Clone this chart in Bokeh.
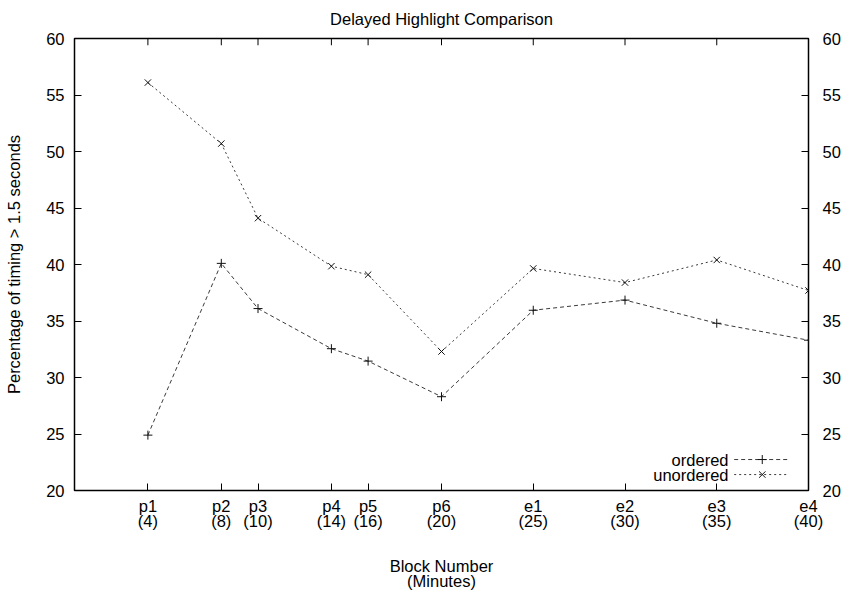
from bokeh.plotting import figure
from bokeh.models import (LinearAxis, FixedTicker, Range1d, ColumnDataSource, Label)
from bokeh.embed import file_html
from bokeh.resources import INLINE

# ---- data ----
blocks = ["p1", "p2", "p3", "p4", "p5", "p6", "e1", "e2", "e3", "e4"]
minutes = [4, 8, 10, 14, 16, 20, 25, 30, 35, 40]
ordered = [24.9, 40.1, 36.1, 32.55, 31.45, 28.3, 35.95, 36.85, 34.8, 33.3]
unordered = [56.1, 50.7, 44.1, 39.85, 39.1, 32.3, 39.65, 38.4, 40.4, 37.7]
y_ticks = [20, 25, 30, 35, 40, 45, 50, 55, 60]
title_text = "Delayed Highlight Comparison"

FONT = "Liberation Sans"
FS = "16.5px"
LINE_COLOR = "#3a3a3a"
X_MIN, X_MAX = 0, 40
Y_MIN, Y_MAX = 20, 60
TICK_LEN_DATA = 0.6  # inward tick length for the top edge, in y units

p = figure(width=844, height=593, output_backend="svg", toolbar_location=None,
           x_range=Range1d(X_MIN, X_MAX), y_range=Range1d(Y_MIN, Y_MAX),
           min_border_left=74, min_border_right=36, min_border_top=38,
           min_border_bottom=102, x_axis_location=None, y_axis_location=None)
p.xgrid.visible = False
p.ygrid.visible = False
p.outline_line_color = "black"
p.outline_line_width = 1.5
p.background_fill_color = "white"
p.border_fill_color = "white"

p.title.text = title_text
p.title.align = "center"
p.title.vertical_align = "top"
p.title.text_font = FONT
p.title.text_font_style = "normal"
p.title.text_font_size = FS
p.title.text_color = "black"
p.title.text_line_height = 0.7
p.title.standoff = 17


def style_axis(ax):
    ax.axis_line_color = None
    ax.major_tick_in = 7
    ax.major_tick_out = 0
    ax.minor_tick_in = 0
    ax.minor_tick_out = 0
    ax.major_tick_line_color = "black"
    ax.major_tick_line_width = 1
    ax.major_label_text_font = FONT
    ax.major_label_text_font_size = FS
    ax.major_label_text_color = "black"
    ax.major_label_text_line_height = 0.85
    ax.axis_label_text_font = FONT
    ax.axis_label_text_font_size = FS
    ax.axis_label_text_font_style = "normal"
    ax.axis_label_text_color = "black"
    ax.axis_label_text_line_height = 0.85


# bottom axis
xb = LinearAxis(ticker=FixedTicker(ticks=minutes))
style_axis(xb)
xb.major_label_overrides = {m: f"{b}\n({m})" for b, m in zip(blocks, minutes)}
xb.major_label_standoff = 6
xb.axis_label = "Block Number\n(Minutes)"
xb.axis_label_standoff = 24
p.add_layout(xb, "below")

# left axis
yl = LinearAxis(ticker=FixedTicker(ticks=y_ticks))
style_axis(yl)
yl.major_label_standoff = 10
yl.axis_label = "Percentage of timing > 1.5 seconds"
yl.axis_label_standoff = 20
p.add_layout(yl, "left")

# right axis
yr = LinearAxis(ticker=FixedTicker(ticks=y_ticks))
style_axis(yr)
yr.major_label_standoff = 14
p.add_layout(yr, "right")

# mirrored inward ticks on the top edge at the block positions
p.segment(x0=minutes, y0=[Y_MAX] * len(minutes), x1=minutes,
          y1=[Y_MAX - TICK_LEN_DATA] * len(minutes), line_color="black", line_width=1)

src = ColumnDataSource(dict(x=minutes, o=ordered, u=unordered))

p.line("x", "o", source=src, line_color=LINE_COLOR, line_width=1, line_dash="4 3")
p.scatter("x", "o", source=src, marker="cross", size=9, line_color="#111111",
          line_width=1)
p.line("x", "u", source=src, line_color=LINE_COLOR, line_width=1, line_dash="2 3")
p.scatter("x", "u", source=src, marker="x", size=9, line_color="#111111",
          line_width=1)

# legend (gnuplot style: text left of sample), positioned in data space
LEG_X0, LEG_X1, LEG_XM = 35.95, 38.86, 37.48
LEG_Y = [22.74, 21.41]
LEG_TXT_X = 35.64
leg_names = ["ordered", "unordered"]
leg_dash = ["4 3", "2 3"]
leg_marker = ["cross", "x"]
for name, yy, dsh, mk in zip(leg_names, LEG_Y, leg_dash, leg_marker):
    p.line([LEG_X0, LEG_X1], [yy, yy], line_color=LINE_COLOR, line_width=1,
           line_dash=dsh)
    p.scatter([LEG_XM], [yy], marker=mk, size=9, line_color="#111111", line_width=1)
    p.add_layout(Label(x=LEG_TXT_X, y=yy, text=name, text_align="right",
                       text_baseline="middle", text_font=FONT,
                       text_font_size=FS, text_color="black"))

open("out.html", "w").write(file_html(p, INLINE))
